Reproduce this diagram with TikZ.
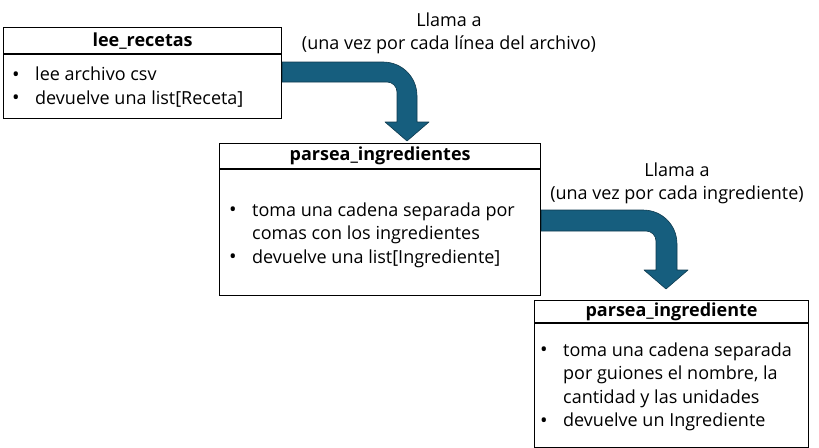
\documentclass[tikz,border=0pt]{standalone}
\usepackage{fontspec}
\setmainfont{Open Sans}
\definecolor{arrowfill}{RGB}{22,94,126}
\definecolor{arrowline}{RGB}{14,58,78}
\newcommand{\bul}{\makebox[23pt][l]{\raisebox{-0.5pt}{\fontsize{20}{20}\selectfont\textbullet}}}
\newcommand{\cont}{\makebox[23pt][l]{}}
\begin{document}
\begin{tikzpicture}[x=1pt,y=-1pt,
  titlebox/.style={draw=black,line width=1.2pt,anchor=north west,inner sep=0pt,font=\fontsize{18}{20}\selectfont\bfseries},
  bodybox/.style={draw=black,line width=1.2pt,anchor=north west,inner sep=0pt},
  bodytext/.style={anchor=west,inner sep=0pt,align=left,font=\fontsize{18}{23.5}\selectfont},
  calltext/.style={inner sep=0pt,align=center,font=\fontsize{18}{23}\selectfont},
  blockarrow/.style={fill=arrowfill,draw=arrowline,line width=0.6pt,line join=round}]
\useasboundingbox (0,0) rectangle (819,447);
% box 1
\node[titlebox,minimum width=278,minimum height=26] (leeT) at (3,27) {lee\_recetas};
\node[bodybox,minimum width=278,minimum height=64] (leeB) at (leeT.south west) {};
\node[bodytext] (leeX) at (12,87) {\bul lee archivo csv\\\bul devuelve una list[Receta]};
% box 2
\node[titlebox,minimum width=321,minimum height=25] (ingsT) at (219,143) {parsea\_ingredientes};
\node[bodybox,minimum width=321,minimum height=126] (ingsB) at (ingsT.south west) {};
\node[bodytext] (ingsX) at (229,235) {\bul toma una cadena separada por\\\cont comas con los ingredientes\\\bul devuelve una list[Ingrediente]};
% box 3
\node[titlebox,minimum width=274,minimum height=22] (ingT) at (534,300) {parsea\_ingrediente};
\node[bodybox,minimum width=274,minimum height=124] (ingB) at (ingT.south west) {};
\node[bodytext] (ingX) at (540,387) {\bul toma una cadena separada\\\cont por guiones el nombre, la\\\cont cantidad y las unidades\\\bul devuelve un Ingrediente};
% call labels
\node[calltext] (call1) at (449,33) {Llama a\\(una vez por cada línea del archivo)};
\node[calltext] (call2) at (677,183) {Llama a\\(una vez por cada ingrediente)};
% arrow 1
\path[blockarrow] (leeB.east |- 0,62) -- (383,62) .. controls (402,62) and (417,77) .. (417,96)
  -- (417,122) -- (429,122) -- (407,141) -- (385,122) -- (397,122) -- (397,92)
  .. controls (397,86.5) and (392.5,82) .. (387,82) -- (leeB.east |- 0,82) -- cycle;
% arrow 2
\path[blockarrow] (ingsB.east |- 0,210) -- (643,210) .. controls (662,210) and (677,225) .. (677,244)
  -- (677,270) -- (688,270) -- (666,289) -- (644,270) -- (656,270) -- (656,241)
  .. controls (656,235.5) and (651.5,231) .. (646,231) -- (ingsB.east |- 0,231) -- cycle;
\end{tikzpicture}
\end{document}
